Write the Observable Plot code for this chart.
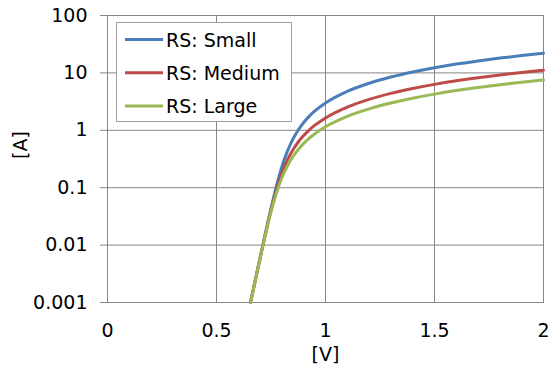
<!DOCTYPE html>
<html>
<head>
<meta charset="utf-8">
<script src="https://cdn.jsdelivr.net/npm/d3@7"></script>
<script src="https://cdn.jsdelivr.net/npm/@observablehq/plot@0.6"></script>
<style>
  html, body { margin: 0; padding: 0; background: #fff; }
  #chart { position: relative; width: 549px; height: 373px; }
</style>
</head>
<body>
<div id="chart"></div>
<script>
// ---- data ----
const voltage = [0.656, 0.7, 0.75, 0.775, 0.8, 0.825, 0.85, 0.875, 0.9, 0.925, 0.95, 1.0, 1.1, 1.2, 1.3, 1.4, 1.5, 1.6, 1.7, 1.8, 1.9, 2.0];
const currentSmall  = [0.001, 0.0060, 0.0436, 0.107, 0.232, 0.43, 0.696, 1.013, 1.367, 1.75, 2.15, 2.99, 4.76, 6.6, 8.48, 10.38, 12.3, 14.23, 16.17, 18.11, 20.06, 22.02];
const currentMedium = [0.001, 0.0060, 0.0404, 0.0918, 0.179, 0.301, 0.453, 0.625, 0.811, 1.008, 1.215, 1.64, 2.534, 3.46, 4.4, 5.352, 6.312, 7.28, 8.247, 9.22, 10.195, 11.17];
const currentLarge  = [0.001, 0.0059, 0.0378, 0.081, 0.149, 0.239, 0.346, 0.464, 0.592, 0.725, 0.864, 1.15, 1.75, 2.367, 2.995, 3.63, 4.27, 4.915, 5.562, 6.21, 6.861, 7.513];
const seriesNames = ["RS: Small", "RS: Medium", "RS: Large"];
const seriesColors = ["#4A7EBB", "#BE4B48", "#98B954"];
const xTicks = [0, 0.5, 1, 1.5, 2];
const xTickLabels = ["0", "0.5", "1", "1.5", "2"];
const yTicks = [0.001, 0.01, 0.1, 1, 10, 100];
const yTickLabels = ["0.001", "0.01", "0.1", "1", "10", "100"];
const xTitle = "[V]";
const yTitle = "[A]";

// ---- build table ----
const seriesValues = [currentSmall, currentMedium, currentLarge];
const rows = [];
seriesNames.forEach((name, s) => {
  voltage.forEach((v, i) => rows.push({ V: v, I: seriesValues[s][i], name }));
});

const gridColor = "#868686";
const font = "'DejaVu Sans', Verdana, sans-serif";

const chart = Plot.plot({
  width: 549,
  height: 373,
  marginLeft: 107,
  marginRight: 6,
  marginTop: 15,
  marginBottom: 71,
  style: { fontFamily: font, fontSize: "19px", color: "#000", background: "#fff", overflow: "visible" },
  x: { domain: [0, 2] },
  y: { type: "log", domain: [0.001, 100] },
  color: { domain: seriesNames, range: seriesColors },
  marks: [
    Plot.gridX(xTicks, { stroke: gridColor, strokeOpacity: 1, strokeWidth: 1 }),
    Plot.gridY(yTicks, { stroke: gridColor, strokeOpacity: 1, strokeWidth: 1 }),
    Plot.frame({ stroke: gridColor, strokeWidth: 1 }),
    Plot.axisY(yTicks, {
      tickSize: 7, tickPadding: 13, stroke: gridColor, fill: "#000",
      tickFormat: d => yTickLabels[yTicks.indexOf(d)], label: null, fontSize: 19
    }),
    Plot.axisX(xTicks, {
      tickSize: 0, tickPadding: 21, fill: "#000",
      tickFormat: d => xTickLabels[xTicks.indexOf(d)], label: null, fontSize: 19
    }),
    Plot.line(rows, { x: "V", y: "I", z: "name", stroke: "name", strokeWidth: 3, curve: "monotone-x" }),
    Plot.text([yTitle], { frameAnchor: "left", dx: -87, rotate: -90, fill: "#000", fontSize: 19 }),
    Plot.text([xTitle], { frameAnchor: "bottom", dy: 58, fill: "#000", fontSize: 19 })
  ]
});
document.getElementById("chart").appendChild(chart);

// ---- legend box inside plot area ----
const svg = d3.select(chart);
const lg = svg.append("g")
  .attr("font-family", font).attr("font-size", 19).attr("text-anchor", "start");
lg.append("rect")
  .attr("x", 116.5).attr("y", 22.5).attr("width", 175).attr("height", 99)
  .attr("fill", "#fff").attr("stroke", "#A0A0A0").attr("stroke-width", 1);
seriesNames.forEach((name, i) => {
  const cy = 39.5 + i * 33.3;
  lg.append("line")
    .attr("x1", 125).attr("x2", 163).attr("y1", cy).attr("y2", cy)
    .attr("stroke", seriesColors[i]).attr("stroke-width", 3);
  lg.append("text")
    .attr("x", 166).attr("y", cy + 7).attr("fill", "#000")
    .attr("text-anchor", "start").text(name);
});
</script>
</body>
</html>
